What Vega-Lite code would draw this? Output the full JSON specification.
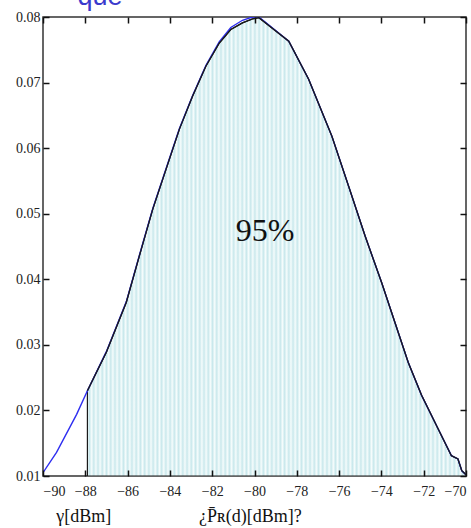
{
  "$schema": "https://vega.github.io/schema/vega-lite/v6.json",
  "width": 423,
  "height": 459,
  "autosize": {"type": "none"},
  "padding": {"left": 43, "top": 17, "right": 5, "bottom": 52},
  "background": "white",
  "config": {"view": {"stroke": "#333", "strokeWidth": 1.5}},
  "datasets": {
    "curve": [
      {"x": -87.9, "y": 0.0230}, {"x": -87.0, "y": 0.0289}, {"x": -86.06, "y": 0.0365},
      {"x": -85.44, "y": 0.0436}, {"x": -84.81, "y": 0.0507}, {"x": -84.18, "y": 0.0568},
      {"x": -83.55, "y": 0.0629}, {"x": -82.93, "y": 0.0679}, {"x": -82.3, "y": 0.0725},
      {"x": -81.67, "y": 0.0760}, {"x": -81.12, "y": 0.0781}, {"x": -80.57, "y": 0.0791},
      {"x": -80.1, "y": 0.0797}, {"x": -79.79, "y": 0.0799}, {"x": -78.38, "y": 0.0763},
      {"x": -77.44, "y": 0.0705}, {"x": -76.34, "y": 0.0618}, {"x": -75.55, "y": 0.0542},
      {"x": -74.77, "y": 0.0466}, {"x": -73.99, "y": 0.0395}, {"x": -73.36, "y": 0.0334},
      {"x": -72.73, "y": 0.0273}, {"x": -72.1, "y": 0.0223}, {"x": -71.32, "y": 0.0172},
      {"x": -70.69, "y": 0.0131}, {"x": -70.38, "y": 0.0126}, {"x": -70.2, "y": 0.0108},
      {"x": -70.0, "y": 0.0102}
    ],
    "blue": [
      {"x": -90.0, "y": 0.0105}, {"x": -89.36, "y": 0.0136}, {"x": -88.41, "y": 0.0194},
      {"x": -87.9, "y": 0.0230}, {"x": -87.0, "y": 0.0290}, {"x": -86.06, "y": 0.0366},
      {"x": -85.44, "y": 0.0437}, {"x": -84.81, "y": 0.0508}, {"x": -84.18, "y": 0.0569},
      {"x": -83.55, "y": 0.0630}, {"x": -82.93, "y": 0.0680}, {"x": -82.3, "y": 0.0726},
      {"x": -81.67, "y": 0.0762}, {"x": -81.12, "y": 0.0784}, {"x": -80.57, "y": 0.0795},
      {"x": -80.1, "y": 0.0800}, {"x": -79.79, "y": 0.0800}, {"x": -78.38, "y": 0.0763},
      {"x": -77.44, "y": 0.0705}, {"x": -76.34, "y": 0.0618}, {"x": -75.55, "y": 0.0542},
      {"x": -74.77, "y": 0.0466}, {"x": -73.99, "y": 0.0395}, {"x": -73.36, "y": 0.0334},
      {"x": -72.73, "y": 0.0273}, {"x": -72.1, "y": 0.0223}, {"x": -71.32, "y": 0.0172},
      {"x": -70.69, "y": 0.0131}, {"x": -70.38, "y": 0.0126}, {"x": -70.2, "y": 0.0108},
      {"x": -70.0, "y": 0.0102}
    ],
    "axislabels": [
      {"x": -88.07, "label": "γ[dBm]"},
      {"x": -80.2, "label": "¿P̄ʀ(d)[dBm]?"}
    ],
    "notes": [
      {"x": -79.5, "y": 0.0473, "label": "95%", "kind": "pct"},
      {"x": -87.3, "y": 0.08, "label": "que", "kind": "top"}
    ]
  },
  "layer": [
    {
      "data": {"name": "curve"},
      "mark": {"type": "area", "stroke": "#1a1a1a", "strokeWidth": 1.2, "clip": true,
        "fill": {"gradient": "linear", "x1": 0, "y1": 0, "x2": 1, "y2": 0, "stops": [
          {"offset": 0, "color": "#f5fcfc"}, {"offset": 0.0056, "color": "#c9e8ec"},
          {"offset": 0.0112, "color": "#f5fcfc"}, {"offset": 0.0168, "color": "#c9e8ec"},
          {"offset": 0.0224, "color": "#f5fcfc"}, {"offset": 0.028, "color": "#c9e8ec"},
          {"offset": 0.0336, "color": "#f5fcfc"}, {"offset": 0.0392, "color": "#c9e8ec"},
          {"offset": 0.0448, "color": "#f5fcfc"}, {"offset": 0.0504, "color": "#c9e8ec"},
          {"offset": 0.056, "color": "#f5fcfc"}, {"offset": 0.0616, "color": "#c9e8ec"},
          {"offset": 0.0672, "color": "#f5fcfc"}, {"offset": 0.0728, "color": "#c9e8ec"},
          {"offset": 0.0784, "color": "#f5fcfc"}, {"offset": 0.084, "color": "#c9e8ec"},
          {"offset": 0.0896, "color": "#f5fcfc"}, {"offset": 0.0952, "color": "#c9e8ec"},
          {"offset": 0.1008, "color": "#f5fcfc"}, {"offset": 0.1064, "color": "#c9e8ec"},
          {"offset": 0.112, "color": "#f5fcfc"}, {"offset": 0.1176, "color": "#c9e8ec"},
          {"offset": 0.1232, "color": "#f5fcfc"}, {"offset": 0.1288, "color": "#c9e8ec"},
          {"offset": 0.1344, "color": "#f5fcfc"}, {"offset": 0.14, "color": "#c9e8ec"},
          {"offset": 0.1456, "color": "#f5fcfc"}, {"offset": 0.1512, "color": "#c9e8ec"},
          {"offset": 0.1568, "color": "#f5fcfc"}, {"offset": 0.1624, "color": "#c9e8ec"},
          {"offset": 0.168, "color": "#f5fcfc"}, {"offset": 0.1736, "color": "#c9e8ec"},
          {"offset": 0.1792, "color": "#f5fcfc"}, {"offset": 0.1848, "color": "#c9e8ec"},
          {"offset": 0.1904, "color": "#f5fcfc"}, {"offset": 0.196, "color": "#c9e8ec"},
          {"offset": 0.2016, "color": "#f5fcfc"}, {"offset": 0.2072, "color": "#c9e8ec"},
          {"offset": 0.2128, "color": "#f5fcfc"}, {"offset": 0.2184, "color": "#c9e8ec"},
          {"offset": 0.224, "color": "#f5fcfc"}, {"offset": 0.2296, "color": "#c9e8ec"},
          {"offset": 0.2352, "color": "#f5fcfc"}, {"offset": 0.2408, "color": "#c9e8ec"},
          {"offset": 0.2464, "color": "#f5fcfc"}, {"offset": 0.252, "color": "#c9e8ec"},
          {"offset": 0.2576, "color": "#f5fcfc"}, {"offset": 0.2632, "color": "#c9e8ec"},
          {"offset": 0.2688, "color": "#f5fcfc"}, {"offset": 0.2744, "color": "#c9e8ec"},
          {"offset": 0.28, "color": "#f5fcfc"}, {"offset": 0.2856, "color": "#c9e8ec"},
          {"offset": 0.2912, "color": "#f5fcfc"}, {"offset": 0.2968, "color": "#c9e8ec"},
          {"offset": 0.3024, "color": "#f5fcfc"}, {"offset": 0.308, "color": "#c9e8ec"},
          {"offset": 0.3136, "color": "#f5fcfc"}, {"offset": 0.3192, "color": "#c9e8ec"},
          {"offset": 0.3248, "color": "#f5fcfc"}, {"offset": 0.3304, "color": "#c9e8ec"},
          {"offset": 0.336, "color": "#f5fcfc"}, {"offset": 0.3416, "color": "#c9e8ec"},
          {"offset": 0.3472, "color": "#f5fcfc"}, {"offset": 0.3528, "color": "#c9e8ec"},
          {"offset": 0.3584, "color": "#f5fcfc"}, {"offset": 0.364, "color": "#c9e8ec"},
          {"offset": 0.3696, "color": "#f5fcfc"}, {"offset": 0.3752, "color": "#c9e8ec"},
          {"offset": 0.3808, "color": "#f5fcfc"}, {"offset": 0.3864, "color": "#c9e8ec"},
          {"offset": 0.392, "color": "#f5fcfc"}, {"offset": 0.3976, "color": "#c9e8ec"},
          {"offset": 0.4032, "color": "#f5fcfc"}, {"offset": 0.4088, "color": "#c9e8ec"},
          {"offset": 0.4144, "color": "#f5fcfc"}, {"offset": 0.42, "color": "#c9e8ec"},
          {"offset": 0.4256, "color": "#f5fcfc"}, {"offset": 0.4312, "color": "#c9e8ec"},
          {"offset": 0.4368, "color": "#f5fcfc"}, {"offset": 0.4424, "color": "#c9e8ec"},
          {"offset": 0.448, "color": "#f5fcfc"}, {"offset": 0.4536, "color": "#c9e8ec"},
          {"offset": 0.4592, "color": "#f5fcfc"}, {"offset": 0.4648, "color": "#c9e8ec"},
          {"offset": 0.4704, "color": "#f5fcfc"}, {"offset": 0.476, "color": "#c9e8ec"},
          {"offset": 0.4816, "color": "#f5fcfc"}, {"offset": 0.4872, "color": "#c9e8ec"},
          {"offset": 0.4928, "color": "#f5fcfc"}, {"offset": 0.4984, "color": "#c9e8ec"},
          {"offset": 0.504, "color": "#f5fcfc"}, {"offset": 0.5096, "color": "#c9e8ec"},
          {"offset": 0.5152, "color": "#f5fcfc"}, {"offset": 0.5208, "color": "#c9e8ec"},
          {"offset": 0.5264, "color": "#f5fcfc"}, {"offset": 0.532, "color": "#c9e8ec"},
          {"offset": 0.5376, "color": "#f5fcfc"}, {"offset": 0.5432, "color": "#c9e8ec"},
          {"offset": 0.5488, "color": "#f5fcfc"}, {"offset": 0.5544, "color": "#c9e8ec"},
          {"offset": 0.56, "color": "#f5fcfc"}, {"offset": 0.5656, "color": "#c9e8ec"},
          {"offset": 0.5712, "color": "#f5fcfc"}, {"offset": 0.5768, "color": "#c9e8ec"},
          {"offset": 0.5824, "color": "#f5fcfc"}, {"offset": 0.588, "color": "#c9e8ec"},
          {"offset": 0.5936, "color": "#f5fcfc"}, {"offset": 0.5992, "color": "#c9e8ec"},
          {"offset": 0.6048, "color": "#f5fcfc"}, {"offset": 0.6104, "color": "#c9e8ec"},
          {"offset": 0.616, "color": "#f5fcfc"}, {"offset": 0.6216, "color": "#c9e8ec"},
          {"offset": 0.6272, "color": "#f5fcfc"}, {"offset": 0.6328, "color": "#c9e8ec"},
          {"offset": 0.6384, "color": "#f5fcfc"}, {"offset": 0.644, "color": "#c9e8ec"},
          {"offset": 0.6496, "color": "#f5fcfc"}, {"offset": 0.6552, "color": "#c9e8ec"},
          {"offset": 0.6608, "color": "#f5fcfc"}, {"offset": 0.6664, "color": "#c9e8ec"},
          {"offset": 0.672, "color": "#f5fcfc"}, {"offset": 0.6776, "color": "#c9e8ec"},
          {"offset": 0.6832, "color": "#f5fcfc"}, {"offset": 0.6888, "color": "#c9e8ec"},
          {"offset": 0.6944, "color": "#f5fcfc"}, {"offset": 0.7, "color": "#c9e8ec"},
          {"offset": 0.7056, "color": "#f5fcfc"}, {"offset": 0.7112, "color": "#c9e8ec"},
          {"offset": 0.7168, "color": "#f5fcfc"}, {"offset": 0.7224, "color": "#c9e8ec"},
          {"offset": 0.728, "color": "#f5fcfc"}, {"offset": 0.7336, "color": "#c9e8ec"},
          {"offset": 0.7392, "color": "#f5fcfc"}, {"offset": 0.7448, "color": "#c9e8ec"},
          {"offset": 0.7504, "color": "#f5fcfc"}, {"offset": 0.756, "color": "#c9e8ec"},
          {"offset": 0.7616, "color": "#f5fcfc"}, {"offset": 0.7672, "color": "#c9e8ec"},
          {"offset": 0.7728, "color": "#f5fcfc"}, {"offset": 0.7784, "color": "#c9e8ec"},
          {"offset": 0.784, "color": "#f5fcfc"}, {"offset": 0.7896, "color": "#c9e8ec"},
          {"offset": 0.7952, "color": "#f5fcfc"}, {"offset": 0.8008, "color": "#c9e8ec"},
          {"offset": 0.8064, "color": "#f5fcfc"}, {"offset": 0.812, "color": "#c9e8ec"},
          {"offset": 0.8176, "color": "#f5fcfc"}, {"offset": 0.8232, "color": "#c9e8ec"},
          {"offset": 0.8288, "color": "#f5fcfc"}, {"offset": 0.8344, "color": "#c9e8ec"},
          {"offset": 0.84, "color": "#f5fcfc"}, {"offset": 0.8456, "color": "#c9e8ec"},
          {"offset": 0.8512, "color": "#f5fcfc"}, {"offset": 0.8568, "color": "#c9e8ec"},
          {"offset": 0.8624, "color": "#f5fcfc"}, {"offset": 0.868, "color": "#c9e8ec"},
          {"offset": 0.8736, "color": "#f5fcfc"}, {"offset": 0.8792, "color": "#c9e8ec"},
          {"offset": 0.8848, "color": "#f5fcfc"}, {"offset": 0.8904, "color": "#c9e8ec"},
          {"offset": 0.896, "color": "#f5fcfc"}, {"offset": 0.9016, "color": "#c9e8ec"},
          {"offset": 0.9072, "color": "#f5fcfc"}, {"offset": 0.9128, "color": "#c9e8ec"},
          {"offset": 0.9184, "color": "#f5fcfc"}, {"offset": 0.924, "color": "#c9e8ec"},
          {"offset": 0.9296, "color": "#f5fcfc"}, {"offset": 0.9352, "color": "#c9e8ec"},
          {"offset": 0.9408, "color": "#f5fcfc"}, {"offset": 0.9464, "color": "#c9e8ec"},
          {"offset": 0.952, "color": "#f5fcfc"}, {"offset": 0.9576, "color": "#c9e8ec"},
          {"offset": 0.9632, "color": "#f5fcfc"}, {"offset": 0.9688, "color": "#c9e8ec"},
          {"offset": 0.9744, "color": "#f5fcfc"}, {"offset": 0.98, "color": "#c9e8ec"},
          {"offset": 0.9856, "color": "#f5fcfc"}, {"offset": 0.9912, "color": "#c9e8ec"},
          {"offset": 0.9968, "color": "#f5fcfc"}, {"offset": 1, "color": "#e0f2f4"}
        ]}},
      "encoding": {
        "x": {"field": "x", "type": "quantitative",
          "scale": {"domain": [-90, -70], "nice": false, "zero": false},
          "axis": {"orient": "bottom", "values": [-90, -88, -86, -84, -82, -80, -78, -76, -74, -72, -70],
            "title": null, "grid": false, "domain": false, "offset": -6, "ticks": true, "tickSize": 6, "tickWidth": 1.5, "tickColor": "#111", "tickOpacity": 1, "zindex": 2,
            "labelFont": "Liberation Sans Narrow", "labelFontSize": 14, "labelColor": "#222", "labelPadding": 8}},
        "y": {"field": "y", "type": "quantitative",
          "scale": {"domain": [0.01, 0.08], "nice": false, "zero": false},
          "axis": {"orient": "left", "values": [0.01, 0.02, 0.03, 0.04, 0.05, 0.06, 0.07, 0.08], "format": ".2f",
            "title": null, "grid": false, "domain": false, "offset": -6, "ticks": true, "tickSize": 6, "tickWidth": 1.5, "tickColor": "#111", "tickOpacity": 1, "zindex": 2,
            "labelFont": "Liberation Sans Narrow", "labelFontSize": 14, "labelColor": "#222", "labelPadding": 3}},
        "y2": {"datum": 0.01}
      }
    },
    {
      "data": {"name": "blue"},
      "mark": {"type": "line", "color": "#2e2ef0", "strokeWidth": 1.4, "clip": true},
      "encoding": {
        "x": {"field": "x", "type": "quantitative",
          "axis": {"orient": "top", "values": [-90, -88, -86, -84, -82, -80, -78, -76, -74, -72, -70],
            "title": null, "grid": false, "labels": false, "domain": false, "offset": -6, "ticks": true, "tickSize": 6, "tickWidth": 1.5, "tickColor": "#111", "tickOpacity": 1, "zindex": 2}},
        "y": {"field": "y", "type": "quantitative",
          "axis": {"orient": "right", "values": [0.01, 0.02, 0.03, 0.04, 0.05, 0.06, 0.07, 0.08],
            "title": null, "grid": false, "labels": false, "domain": false, "offset": -6, "ticks": true, "tickSize": 6, "tickWidth": 1.5, "tickColor": "#111", "tickOpacity": 1, "zindex": 2}}
      }
    },
    {
      "data": {"name": "curve"},
      "mark": {"type": "line", "color": "#1a1a1a", "strokeWidth": 1.3, "clip": true},
      "encoding": {
        "x": {"field": "x", "type": "quantitative", "axis": null},
        "y": {"field": "y", "type": "quantitative", "axis": null}
      }
    },
    {
      "data": {"name": "axislabels"},
      "mark": {"type": "text", "font": "Liberation Serif", "fontSize": 18, "color": "#111", "baseline": "middle", "dy": 41},
      "encoding": {
        "x": {"field": "x", "type": "quantitative", "axis": null},
        "y": {"datum": 0.01, "axis": null},
        "text": {"field": "label"}
      }
    },
    {
      "data": {"name": "notes"},
      "transform": [{"filter": "datum.kind === 'pct'"}],
      "mark": {"type": "text", "font": "Liberation Serif", "fontSize": 32, "color": "#111", "baseline": "middle"},
      "encoding": {
        "x": {"field": "x", "type": "quantitative", "axis": null},
        "y": {"field": "y", "type": "quantitative", "axis": null},
        "text": {"field": "label"}
      }
    },
    {
      "data": {"name": "notes"},
      "transform": [{"filter": "datum.kind === 'top'"}],
      "mark": {"type": "text", "font": "Liberation Sans", "fontSize": 27, "color": "#3a3acc", "baseline": "alphabetic", "dy": -12},
      "encoding": {
        "x": {"field": "x", "type": "quantitative", "axis": null},
        "y": {"field": "y", "type": "quantitative", "axis": null},
        "text": {"field": "label"}
      }
    }
  ],
  "resolve": {"axis": {"x": "independent", "y": "independent"}}
}
